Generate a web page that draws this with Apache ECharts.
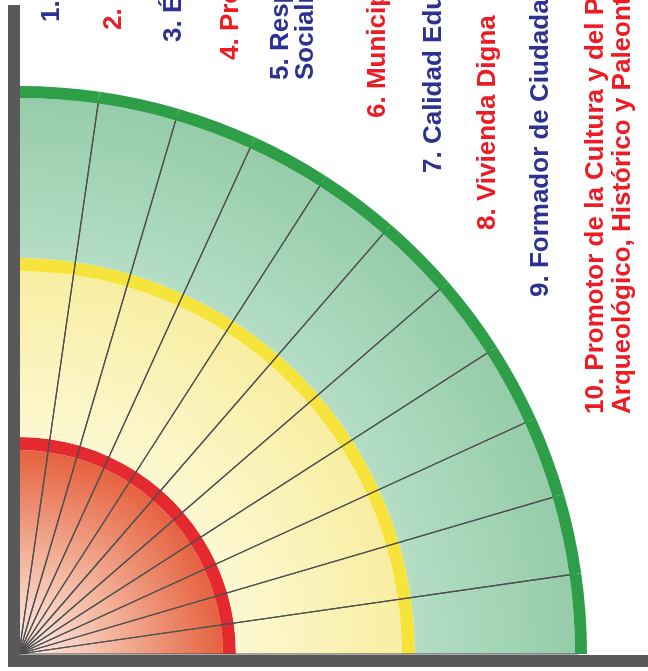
<!DOCTYPE html>
<html><head><meta charset="utf-8">
<script src="https://cdn.jsdelivr.net/npm/echarts@6/dist/echarts.min.js"></script>
<style>html,body{margin:0;padding:0;background:#fff}#c{width:648px;height:671px}</style>
</head><body><div id="c"></div>
<script>
// ---- data ----
const sectors = ['1','2','3','4','5','6','7','8','9','10','11'];
// radial bands from the centre outwards, widths in % of the outer radius
const bandNames  = ['redFill','redRing','yellowFill','yellowRing','greenFill','greenRing'];
const bandWidths = [35.9, 2.3, 29.2, 2.3, 28.2, 2.1];
// divider lines run from the centre to the green ring
const dividerReach = 98.4;
const labels = [
  '1. Buen Gobierno',
  '2. Desarrollo Económico',
  '3. Ética y Transparencia',
  '4. Promotor del Desarrollo Sustentable',
  '5. Responsabilidad Pública\nSocialmente Incluyente',
  '6. Municipio Seguro',
  '7. Calidad Educativa',
  '8. Vivienda Digna',
  '9. Formador de Ciudadanía',
  '10. Promotor de la Cultura y del Patrimonio\nArqueológico, Histórico y Paleontológico'
];

// ---- style / layout ----
const CX = 19, CY = 654, R = 568;
const BLUE = '#2e3192', RED = '#ed1c24';
const grad = (stops) => ({type:'radial', x:CX, y:CY, r:R, global:true,
  colorStops: stops.map(s => ({offset:s[0], color:s[1]}))});
const bandColors = [
  grad([[0,'#fdf1ec'],[0.17,'#f3b49c'],[0.365,'#e55f3c']]),
  '#e42a2e',
  grad([[0.38,'#fdf8d2'],[0.67,'#f8eea3']]),
  '#f6e33b',
  grad([[0.69,'#b4dec6'],[0.98,'#96cca9']]),
  '#2e9f48'
];
const labelPos = [ // [column centre x, start y, lineHeight]
  [52,22],[114,30],[174,42],[231,60],[293.5,80,25],[378,118],[434,173],[488,230],[541,297],[609.5,414,27]
];

const series = bandNames.map((n,i) => ({
  name:n, type:'bar', coordinateSystem:'polar', stack:'bands',
  data: sectors.map(() => bandWidths[i]),
  barCategoryGap:'0%', barGap:'-100%',
  itemStyle:{color:bandColors[i], borderWidth:0},
  z: n === 'greenRing' ? 4 : 2,
  silent:true, emphasis:{disabled:true}
}));
series.push({
  name:'dividers', type:'bar', coordinateSystem:'polar',
  data: sectors.map(() => dividerReach),
  barCategoryGap:'0%', barGap:'-100%',
  itemStyle:{color:'rgba(0,0,0,0)', borderColor:'#4f4f4f', borderWidth:1.2},
  z:3, silent:true, emphasis:{disabled:true}
});

const graphic = [
  {type:'rect', shape:{x:8, y:5, width:12, height:662}, style:{fill:'#595959'}, z:100},
  {type:'rect', shape:{x:8, y:655, width:640, height:12}, style:{fill:'#595959'}, z:100}
];
labels.forEach((t,i) => {
  const p = labelPos[i];
  graphic.push({
    type:'text', x:p[0], y:p[1], rotation:Math.PI/2, z:100,
    style:{text:t, x:0, y:0, fill: i%2===0 ? BLUE : RED,
      font:'bold 26px "Liberation Sans", Arial, sans-serif',
      textAlign:'left', align:'left', textVerticalAlign:'middle', verticalAlign:'middle',
      lineHeight: p[2] || 26}
  });
});

const chart = echarts.init(document.getElementById('c'));
chart.setOption({
  animation:false,
  polar:{center:[CX,CY], radius:R},
  angleAxis:{type:'category', data:sectors, startAngle:90, endAngle:0, clockwise:true,
    axisLine:{show:false}, axisTick:{show:false}, axisLabel:{show:false}, splitLine:{show:false}},
  radiusAxis:{type:'value', min:0, max:100,
    axisLine:{show:false}, axisTick:{show:false}, axisLabel:{show:false}, splitLine:{show:false}},
  series,
  graphic
});
</script></body></html>
